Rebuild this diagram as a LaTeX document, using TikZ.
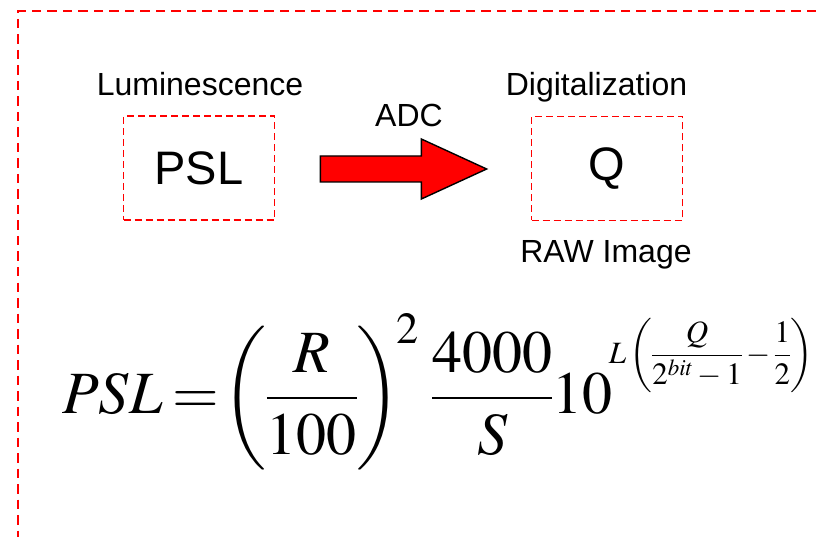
\documentclass[tikz,border=0pt]{standalone}
\usepackage{amsmath}
\usepackage{mathptmx}
\usepackage[no-math]{fontspec}
\setmainfont{Liberation Sans}
\usepackage{tikz}
\usetikzlibrary{calc}
\usetikzlibrary{positioning}
\tikzset{>=stealth}
\tikzset{
  frameline/.style={draw=red, line width=2.2pt, dash pattern=on 9.5pt off 6pt},
  dashbox/.style={draw=red, line width=1.7pt, dash pattern=on 7pt off 4pt,
    minimum width=151pt, minimum height=104pt, inner sep=0pt,
    font=\fontsize{47}{52}\selectfont},
  caption/.style={font=\fontsize{32}{36}\selectfont, inner sep=0pt, anchor=base},
  adcarrow/.style={draw=black, line width=1.4pt, fill=red, line join=miter},
}

\begin{document}
\begin{tikzpicture}[x=1pt,y=-1pt]
  \useasboundingbox (0,0) rectangle (816,537);
  % outer frame
  \draw[frameline] (816,11) -- (18,11) -- (18,537);

  % boxes and captions
  \node (psl) [dashbox] at (199,168) {PSL};
  \node (q) [dashbox] at (607,168.5) {Q};
  \node (lum) [caption] at (200,96) {Luminescence};
  \node (dig) [caption] at (596.5,96) {Digitalization};
  \node (raw) [caption] at (606,262) {RAW Image};
  \node (adc) [caption] at (409,127) {ADC};

  % conversion arrow
  \coordinate (tail) at ($(psl.east)+(45,1)$);
  \coordinate (tip) at ($(q.west)+(-44,0.5)$);
  \draw[adcarrow] ($(tail)+(0,-13)$) -- ($(tail)+(101,-13)$) -- ($(tail)+(101,-30)$)
    -- (tip) -- ($(tail)+(101,30)$) -- ($(tail)+(101,13)$) -- ($(tail)+(0,13)$) -- cycle;

  % formula
  \node (formula) [anchor=base west, inner sep=0pt, font=\fontsize{60}{66}\selectfont] at (62,413)
    {\nulldelimiterspace=0pt\thickmuskip=3mu$PSL=\!\left(\dfrac{R}{100}\right)^{\!2}\,\dfrac{4000}{S}10\raisebox{50pt}{\fontsize{31}{34}\selectfont$\!L\left(\dfrac{Q}{2^{bit}-1}-\dfrac{1}{2}\right)$}$};
\end{tikzpicture}
\end{document}
